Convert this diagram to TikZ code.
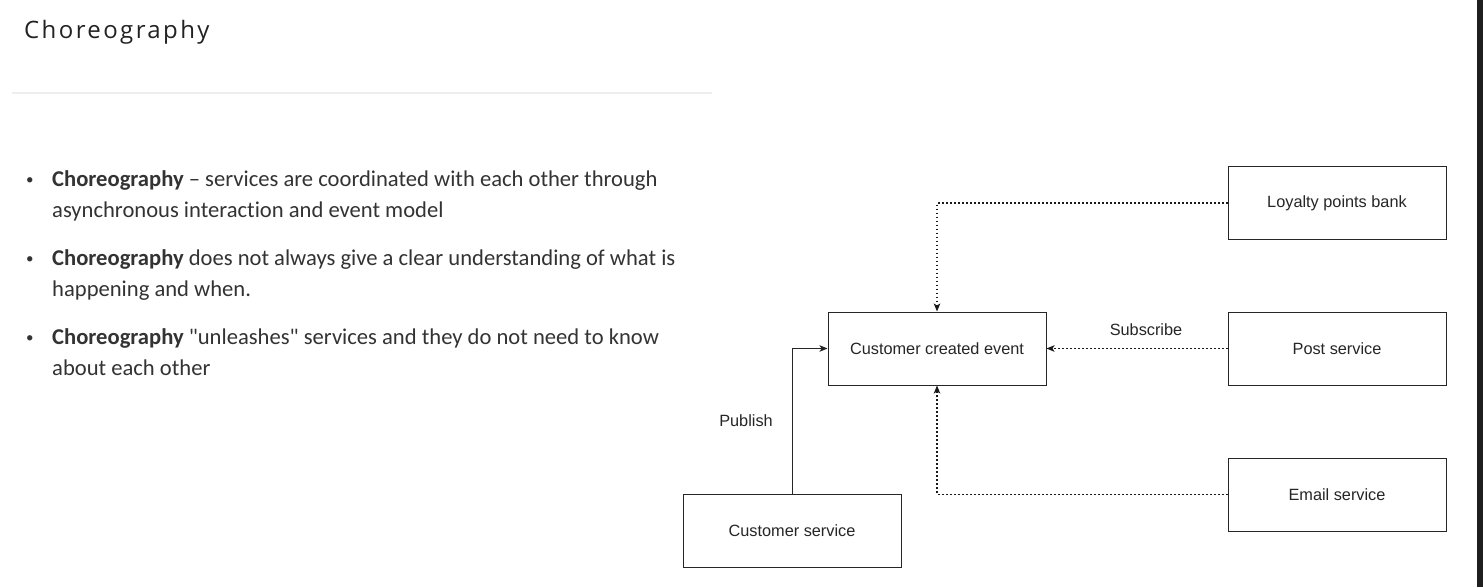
\documentclass[tikz,border=0pt]{standalone}
\usepackage{fontspec}
\setmainfont{Carlito}[Ligatures={NoCommon}]
\newfontfamily\titlefont[LetterSpace=10]{Open Sans}
\newfontfamily\diafont{Liberation Sans}
\usetikzlibrary{arrows.meta}
\definecolor{txt}{HTML}{222222}
\definecolor{bul}{HTML}{333333}
\definecolor{sep}{HTML}{EEEEEE}
\definecolor{strip}{HTML}{1F1F1F}
\begin{document}
\begin{tikzpicture}[x=1pt,y=-1pt,
  box/.style={draw=black!85,line width=1pt,minimum width=218pt,minimum height=73pt,inner sep=0pt,font=\diafont\fontsize{16.3}{19}\selectfont,text=black!85},
  lbl/.style={font=\diafont\fontsize{16.3}{19}\selectfont,text=black!85,inner sep=0pt},
  bl/.style={anchor=base west,inner sep=0pt,font=\fontsize{22.6}{27}\selectfont,text=bul},
  dotarrow/.style={draw=black!90,line width=1.1pt,dash pattern=on 1.8pt off 2.2pt,-{Stealth[length=8pt,width=6.5pt,inset=2pt]}},
  solidarrow/.style={draw=black!85,line width=1pt,-{Stealth[length=8pt,width=6.5pt,inset=2pt]}}]
\useasboundingbox (0,0) rectangle (1483,587);
\fill[white] (0,0) rectangle (1483,587);
\fill[strip] (1477,0) rectangle (1483,587);
% title
\node[anchor=base west,inner sep=0pt,font=\titlefont\fontsize{24}{28}\selectfont,text=txt] (title) at (24,38) {Choreography};
\draw[sep,line width=2pt] (12,93) -- (712,93);
% bullets
\node[bl,font=\fontsize{15}{18}\selectfont] (d1) at (26,184) {•};
\node[bl] (b1a) at (52,186) {\textbf{Choreography} – services are coordinated with each other through};
\node[bl] (b1b) at (52,217) {asynchronous interaction and event model};
\node[bl,font=\fontsize{15}{18}\selectfont] (d2) at (26,263) {•};
\node[bl] (b2a) at (52,265) {\textbf{Choreography} does not always give a clear understanding of what is};
\node[bl] (b2b) at (52,296) {happening and when.};
\node[bl,font=\fontsize{15}{18}\selectfont] (d3) at (26,342) {•};
\node[bl] (b3a) at (52,344) {\textbf{Choreography} \textquotedbl unleashes\textquotedbl{} services and they do not need to know};
\node[bl] (b3b) at (52,375) {about each other};
% diagram
\node[box] (lpb) at (1337,203) {Loyalty points bank};
\node[box] (cce) at (937,348.5) {Customer created event};
\node[box] (ps) at (1337,348.5) {Post service};
\node[box] (es) at (1337,494.5) {Email service};
\node[box] (cs) at (792,531) {Customer service};
\draw[dotarrow] (lpb.west) -| (cce.north);
\draw[dotarrow] (ps.west) -- (cce.east);
\draw[dotarrow] (es.west) -| (cce.south);
\draw[solidarrow] (cs.north) |- (cce.west);
\node[lbl] (sub) at (1146,330) {Subscribe};
\node[lbl] (pub) at (746,421) {Publish};
\end{tikzpicture}
\end{document}
